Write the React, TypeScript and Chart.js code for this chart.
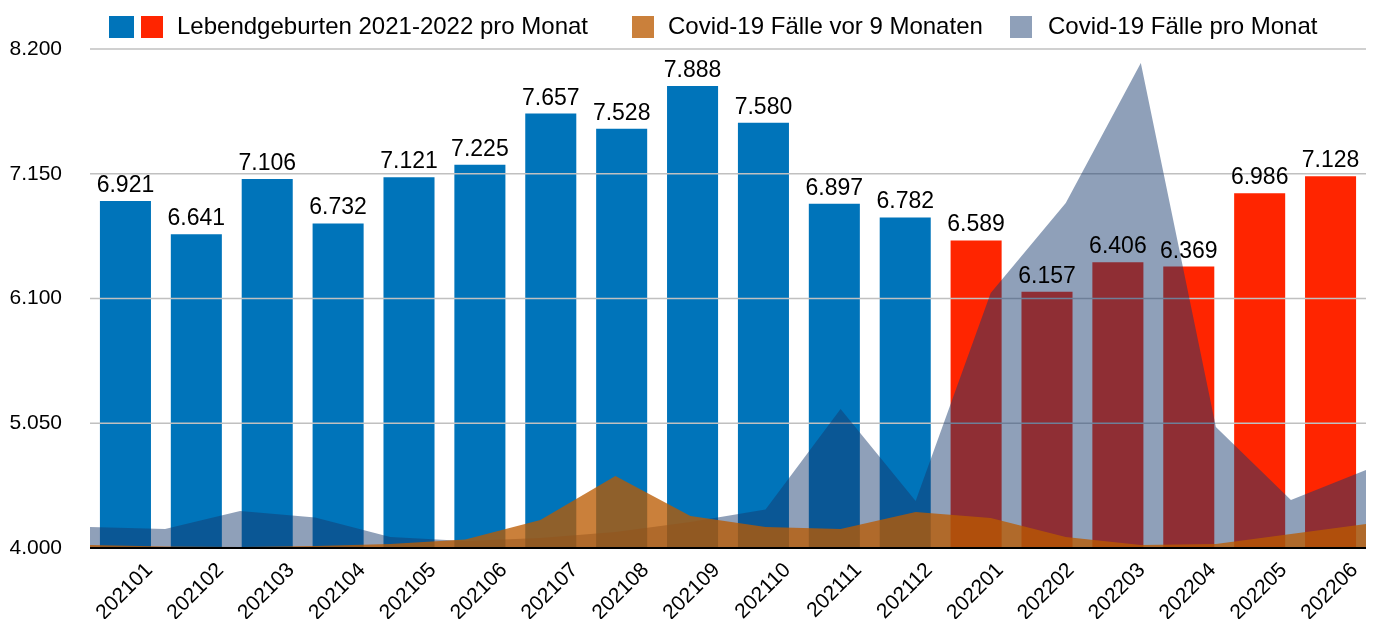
import React, { useEffect, useRef } from 'react';
import { Chart, registerables } from 'chart.js';

Chart.register(...registerables);

const months = ['202101', '202102', '202103', '202104', '202105', '202106', '202107', '202108', '202109', '202110', '202111', '202112', '202201', '202202', '202203', '202204', '202205', '202206'];
const births = [6921, 6641, 7106, 6732, 7121, 7225, 7657, 7528, 7888, 7580, 6897, 6782, 6589, 6157, 6406, 6369, 6986, 7128];
const covidLag9 = [4025, 4013, 4008, 4017, 4034, 4072, 4236, 4606, 4269, 4177, 4160, 4303, 4253, 4093, 4025, 4034, 4118, 4202];
const covidMonthly = [4177, 4160, 4311, 4257, 4093, 4059, 4084, 4135, 4219, 4324, 5170, 4396, 6146, 6904, 8082, 5018, 4404, 4657];
const yTicks = [4000, 5050, 6100, 7150, 8200];
const seriesLabels = ['Lebendgeburten 2021-2022 pro Monat', 'Covid-19 Fälle vor 9 Monaten', 'Covid-19 Fälle pro Monat'];

const BLUE = '#0074BA';
const RED = '#FF2500';
const ORANGE = 'rgba(186, 90, 0, 0.77)';
const GRAY = 'rgba(21, 57, 109, 0.48)';
const GRID = '#c0c0c0';
const FONT = '"Liberation Sans", Arial, sans-serif';

const fmt = (v: number) => String(Math.round(v)).replace(/\B(?=(\d{3})+(?!\d))/g, '.');

const overlay = {
  id: 'overlay',
  afterDatasetDraw(chart: any, args: any) {
    if (args.index !== 0) return;
    const { ctx, chartArea, scales } = chart;
    const y = scales.y;
    ctx.save();
    ctx.strokeStyle = GRID;
    ctx.lineWidth = 1.5;
    yTicks.slice(1).forEach((v) => {
      const py = y.getPixelForValue(v);
      ctx.beginPath();
      ctx.moveTo(chartArea.left, py);
      ctx.lineTo(chartArea.right, py);
      ctx.stroke();
    });
    ctx.restore();
  },
  afterDatasetsDraw(chart: any) {
    const { ctx, chartArea, scales } = chart;
    const y = scales.y;
    ctx.save();
    const by = y.getPixelForValue(yTicks[0]);
    ctx.strokeStyle = '#000';
    ctx.lineWidth = 2;
    ctx.beginPath();
    ctx.moveTo(chartArea.left, by);
    ctx.lineTo(chartArea.right, by);
    ctx.stroke();
    const meta = chart.getDatasetMeta(0);
    ctx.fillStyle = '#000';
    ctx.font = `23px ${FONT}`;
    ctx.textAlign = 'center';
    ctx.textBaseline = 'alphabetic';
    meta.data.forEach((bar: any, i: number) => {
      ctx.fillText(fmt(births[i]), bar.x, bar.y - 9);
    });
    const sqY = 16;
    const sqH = 22;
    ctx.fillStyle = BLUE;
    ctx.fillRect(109, sqY, 25, sqH);
    ctx.fillStyle = RED;
    ctx.fillRect(141, sqY, 22, sqH);
    ctx.fillStyle = 'rgb(202,128,59)';
    ctx.fillRect(632, sqY, 22, sqH);
    ctx.fillStyle = 'rgb(143,160,185)';
    ctx.fillRect(1010, sqY, 22, sqH);
    ctx.fillStyle = '#000';
    ctx.font = `24px ${FONT}`;
    ctx.textAlign = 'left';
    ctx.fillText(seriesLabels[0], 177, 34);
    ctx.fillText(seriesLabels[1], 668, 34);
    ctx.fillText(seriesLabels[2], 1048, 34);
    ctx.restore();
  },
};

export default function App() {
  const ref = useRef<HTMLCanvasElement | null>(null);
  useEffect(() => {
    if (!ref.current) return;
    const chart = new Chart(ref.current, {
      data: {
        labels: months,
        datasets: [
          {
            type: 'bar',
            label: seriesLabels[0],
            data: births,
            backgroundColor: months.map((m) => (m.startsWith('2021') ? BLUE : RED)),
            barPercentage: 0.72,
            categoryPercentage: 1,
            grouped: false,
            order: 3,
            xAxisID: 'x',
            yAxisID: 'y',
          },
          {
            type: 'line',
            label: seriesLabels[1],
            data: covidLag9,
            backgroundColor: ORANGE,
            borderWidth: 0,
            borderColor: 'rgba(0,0,0,0)',
            pointRadius: 0,
            fill: 'start',
            tension: 0,
            order: 1,
            xAxisID: 'x2',
            yAxisID: 'y',
          },
          {
            type: 'line',
            label: seriesLabels[2],
            data: covidMonthly,
            backgroundColor: GRAY,
            borderWidth: 0,
            borderColor: 'rgba(0,0,0,0)',
            pointRadius: 0,
            fill: 'start',
            tension: 0,
            order: 2,
            xAxisID: 'x2',
            yAxisID: 'y',
          },
        ] as any,
      },
      options: {
        animation: false,
        responsive: true,
        maintainAspectRatio: false,
        layout: { padding: { top: 49, right: 15, left: 0, bottom: 0 } },
        plugins: { legend: { display: false }, tooltip: { enabled: false } },
        scales: {
          x: {
            type: 'category',
            offset: true,
            grid: { display: false, drawTicks: false },
            border: { display: false },
            ticks: {
              minRotation: 45,
              maxRotation: 45,
              autoSkip: false,
              padding: 10,
              labelOffset: 24,
              color: '#000',
              font: { family: FONT, size: 21 },
            },
            afterFit: (s: any) => {
              s.height = 71;
            },
          },
          x2: {
            type: 'category',
            labels: months,
            offset: false,
            display: false,
          },
          y: {
            type: 'linear',
            min: 4000,
            max: 8200,
            grid: { display: false, drawTicks: false },
            border: { display: false },
            afterBuildTicks: (s: any) => {
              s.ticks = yTicks.map((v) => ({ value: v }));
            },
            ticks: {
              padding: 28,
              color: '#000',
              font: { family: FONT, size: 21 },
              callback: (v: any) => fmt(Number(v)),
            },
            afterFit: (s: any) => {
              s.width = 90;
            },
          },
        },
      } as any,
      plugins: [overlay],
    });
    return () => chart.destroy();
  }, []);
  return (
    <div style={{ position: 'fixed', left: 0, top: 0, width: 1381, height: 619, background: '#fff' }}>
      <canvas ref={ref} />
    </div>
  );
}
